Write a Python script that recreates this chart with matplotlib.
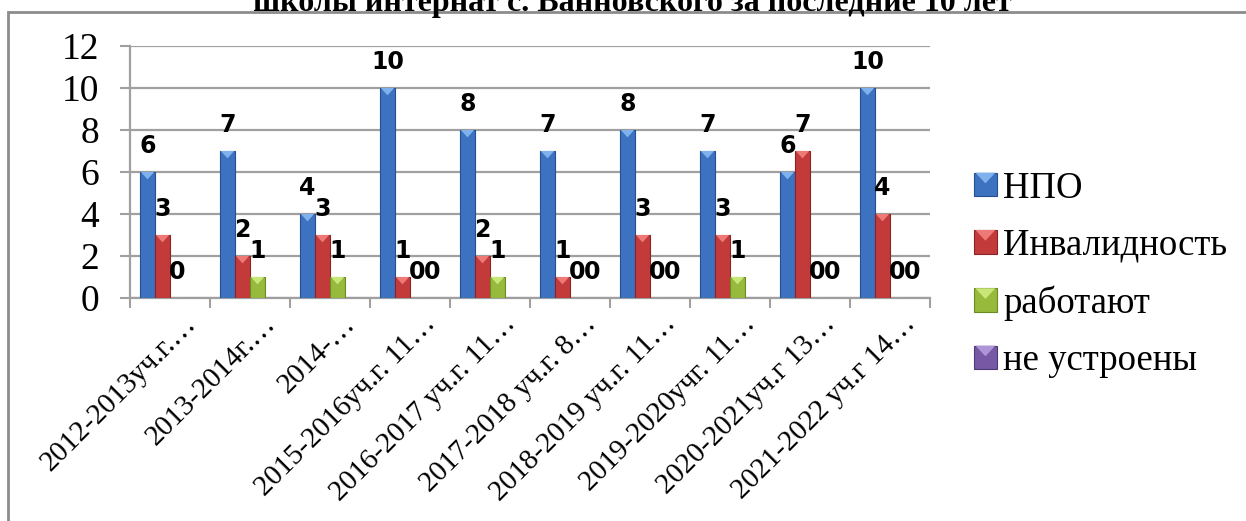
import matplotlib
matplotlib.use("Agg")
import matplotlib.pyplot as plt
from matplotlib.patches import Rectangle, Polygon, Patch
from matplotlib.legend_handler import HandlerBase
from matplotlib.transforms import ScaledTranslation
import numpy as np

categories = ["2012-2013уч.г.…", "2013-2014г.…", "2014-…", "2015-2016уч.г. 11…",
              "2016-2017 уч.г. 11…", "2017-2018 уч.г. 8…", "2018-2019 уч.г. 11…",
              "2019-2020учг. 11…", "2020-2021уч.г 13…", "2021-2022 уч.г 14…"]
series_names = ["НПО", "Инвалидность", "работают", "не устроены"]
npo = [6, 7, 4, 10, 8, 7, 8, 7, 6, 10]
invalid = [3, 2, 3, 1, 2, 1, 3, 3, 7, 4]
rabotayut = [0, 1, 1, 0, 1, 0, 0, 1, 0, 0]
ne_ustroeny = [0, 0, 0, 0, 0, 0, 0, 0, 0, 0]
# value labels of "не устроены" visible in the reference
show_last_label = [False, False, False, True, False, True, True, False, True, True]
yticks = [0, 2, 4, 6, 8, 10, 12]
title = "школы интернат с. Ванновского за последние 10 лет"

colors = ["#3c72c0", "#c23b3a", "#97b93c", "#7658a4"]
edge_colors = ["#24508f", "#8c2322", "#6a8a23", "#4f3a78"]
top_colors = ["#7fb2ec", "#ee7a78", "#c9e678", "#ae95d8"]

W, H = 1246, 521
fig = plt.figure(figsize=(W / 100, H / 100), dpi=100)
fig.patch.set_facecolor("white")

# outer frame
fig.patches.append(Rectangle((8 / W, -0.1), 1.2, 1 - 12 / H + 0.1, transform=fig.transFigure,
                             fill=False, edgecolor="#8c8c8c", lw=2))

fig.text(632 / W, 1 - 11 / H, title, ha="center", va="baseline",
         fontsize=23, fontweight="bold", family="Liberation Serif")

ax = fig.add_axes([130 / W, (H - 298) / H, (930 - 130) / W, (298 - 46) / H])
ax.set_xlim(0, len(categories))
ax.set_ylim(0, 12)

all_series = [npo, invalid, rabotayut, ne_ustroeny]
bw = 0.1875
x = np.arange(len(categories)) + 0.5
tri_h = 0.35
for k, vals in enumerate(all_series):
    pos = x + (k - 1.5) * bw
    ax.bar(pos, vals, width=bw, color=colors[k], edgecolor=edge_colors[k], linewidth=0.8, zorder=3)
    for j, (p, v) in enumerate(zip(pos, vals)):
        if v > 0:
            ax.add_patch(Polygon([[p - bw / 2 + 0.01, v], [p + bw / 2 - 0.01, v], [p, v - tri_h]],
                                 closed=True, facecolor=top_colors[k], edgecolor="none", zorder=4))
        if k == 3 and not show_last_label[j]:
            continue
        ax.annotate(str(v), (p, v), xytext=(0, 14), textcoords="offset points",
                    ha="center", va="baseline", fontsize=17, fontweight="bold",
                    family="DejaVu Sans", zorder=5)

grid_c = "#a0a0a0"
ax.set_yticks(yticks)
ax.set_yticklabels([str(t) for t in yticks], fontsize=27, family="Liberation Serif")
ax.yaxis.grid(True, color=grid_c, lw=1.6, zorder=0)
ax.set_axisbelow(True)
ax.tick_params(axis="y", direction="out", length=7.2, width=1.5, color=grid_c, pad=15)

ax.set_xticks(np.arange(len(categories) + 1))
ax.set_xticklabels([])
ax.tick_params(axis="x", which="major", direction="out", length=7.2, width=1.5, color=grid_c)
ax.set_xticks(x, minor=True)
ax.set_xticklabels(categories, minor=True, rotation=45, ha="right", va="center",
                   rotation_mode="anchor", fontsize=21, family="Liberation Serif")
ax.tick_params(axis="x", which="minor", length=0, pad=0)
offset = ScaledTranslation(22 / 100, -22 / 100, fig.dpi_scale_trans)
for lab in ax.get_xticklabels(minor=True):
    lab.set_transform(lab.get_transform() + offset)

for s in ["top", "right"]:
    ax.spines[s].set_visible(False)
for s in ["left", "bottom"]:
    ax.spines[s].set_color(grid_c)
    ax.spines[s].set_linewidth(1.6)


class BevelSquare(HandlerBase):
    def __init__(self, top):
        super().__init__()
        self.top = top

    def create_artists(self, legend, orig_handle, xdescent, ydescent, width, height, fontsize, trans):
        sq = Rectangle((-xdescent, -ydescent), width, height, facecolor=orig_handle.get_facecolor(),
                       edgecolor=orig_handle.get_edgecolor(), lw=0.8, transform=trans)
        tri = Polygon([[-xdescent + 1, -ydescent + height], [-xdescent + width - 1, -ydescent + height],
                       [-xdescent + width / 2, -ydescent + height * 0.55]], closed=True,
                      facecolor=self.top, edgecolor="none", transform=trans)
        return [sq, tri]


handles = [Patch(facecolor=colors[k], edgecolor=edge_colors[k]) for k in range(4)]
fig.legend(handles, series_names, loc="upper left", bbox_to_anchor=(974 / W, 1 - 171 / H),
           frameon=False, prop={"family": "Liberation Serif", "size": 26.5},
           handlelength=0.62, handleheight=0.62, handletextpad=0.18, labelspacing=0.62,
           borderaxespad=0, borderpad=0,
           handler_map={handles[k]: BevelSquare(top_colors[k]) for k in range(4)})

fig.savefig("out.png", dpi=100, facecolor="white")
